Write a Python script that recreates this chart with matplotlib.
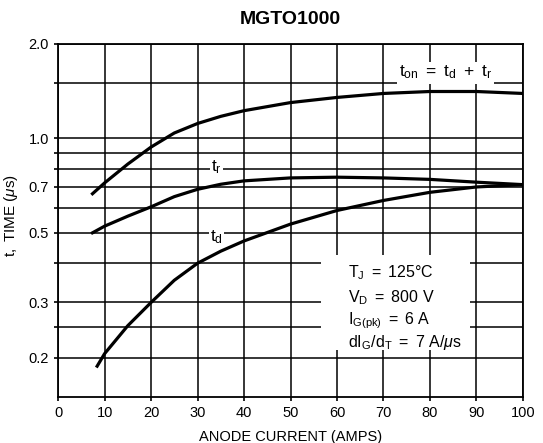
import matplotlib
matplotlib.use("Agg")
import matplotlib.pyplot as plt
from matplotlib.patches import Rectangle

plt.rcParams['font.family'] = ['Liberation Sans', 'DejaVu Sans']
plt.rcParams['mathtext.fontset'] = 'custom'
plt.rcParams['mathtext.rm'] = 'Liberation Sans'
plt.rcParams['mathtext.it'] = 'Liberation Sans:italic'

# curves
x_on = [7.4, 10, 15, 20, 25, 30, 35, 40, 50, 60, 70, 80, 90, 100]
t_on = [0.666, 0.721, 0.828, 0.938, 1.04, 1.115, 1.175, 1.225, 1.30, 1.35, 1.39, 1.41, 1.41, 1.39]

x_r = [7.4, 10, 15, 20, 25, 30, 35, 40, 50, 60, 70, 80, 90, 100]
t_r = [0.50, 0.525, 0.565, 0.605, 0.652, 0.688, 0.714, 0.732, 0.748, 0.752, 0.748, 0.74, 0.725, 0.712]

x_d = [8.4, 10, 15, 20, 25, 30, 35, 40, 50, 60, 70, 80, 90, 100]
t_d = [0.188, 0.206, 0.253, 0.30, 0.353, 0.40, 0.437, 0.471, 0.533, 0.589, 0.634, 0.673, 0.70, 0.712]

xticks = [0, 10, 20, 30, 40, 50, 60, 70, 80, 90, 100]
ygrid = [0.2, 0.25, 0.3, 0.4, 0.5, 0.6, 0.7, 0.8, 0.9, 1.0, 1.5, 2.0]
ylabels = ['0.2', '', '0.3', '', '0.5', '', '0.7', '', '', '1.0', '', '2.0']

conditions = [r'$\mathregular{T_J\ =\ 125°C}$',
              r'$\mathregular{V_D\ =\ 800\ V}$',
              r'$\mathregular{I_{G(pk)}\ =\ 6\ A}$',
              r'$\mathregular{dI_G/d_T\ =\ 7\ A/}\mu\mathregular{s}$']

fig = plt.figure(figsize=(5.43, 4.43), dpi=100)
ax = fig.add_axes([0.107, 0.104, 0.856, 0.797])

ax.set_yscale('log')
ax.set_xlim(0, 100)
ax.set_ylim(0.15, 2.0)
ax.set_xticks(xticks)
ax.set_yticks(ygrid)
ax.set_yticklabels(ylabels)
ax.yaxis.set_minor_locator(matplotlib.ticker.NullLocator())
ax.tick_params(labelsize=10.5, length=3, width=1.2, colors='black')
ax.grid(True, color='black', linewidth=1.1, zorder=1)
ax.set_axisbelow(True)
for s in ax.spines.values():
    s.set_linewidth(1.3)

ax.plot(x_on, t_on, color='black', linewidth=2.3, zorder=3)
ax.plot(x_r, t_r, color='black', linewidth=2.3, zorder=3)
ax.plot(x_d, t_d, color='black', linewidth=2.3, zorder=3)

ax.text(73.3, 1.62, r'$\mathregular{t_{on}\ =\ t_d\ +\ t_r}$', fontsize=12.5,
        ha='left', va='center', zorder=4,
        bbox=dict(facecolor='white', edgecolor='none', pad=1.5))
ax.text(34.1, 0.807, r'$\mathregular{t_r}$', fontsize=12.5, ha='center', va='center',
        zorder=4, bbox=dict(facecolor='white', edgecolor='none', pad=1.0))
ax.text(34.1, 0.485, r'$\mathregular{t_d}$', fontsize=12.5, ha='center', va='center',
        zorder=4, bbox=dict(facecolor='white', edgecolor='none', pad=1.0))

ax.add_patch(Rectangle((56.5, 0.211), 32.1, 0.425 - 0.211, facecolor='white',
                       edgecolor='none', zorder=2))
for yv, txt in zip([0.372, 0.311, 0.263, 0.224], conditions):
    ax.text(62.3, yv, txt, fontsize=11.5, ha='left', va='center', zorder=4)

ax.set_xlabel('ANODE CURRENT (AMPS)', fontsize=10.5)
ax.xaxis.set_label_coords(0.5, -0.095)
ax.set_ylabel(r'$\mathregular{t,\ TIME\ (}\mu\mathregular{s)}$', fontsize=11)
ax.yaxis.set_label_coords(-0.082, 0.515)
ax.set_title('MGTO1000', fontsize=14, fontweight='bold', pad=14)

fig.savefig('out.png', dpi=100)
